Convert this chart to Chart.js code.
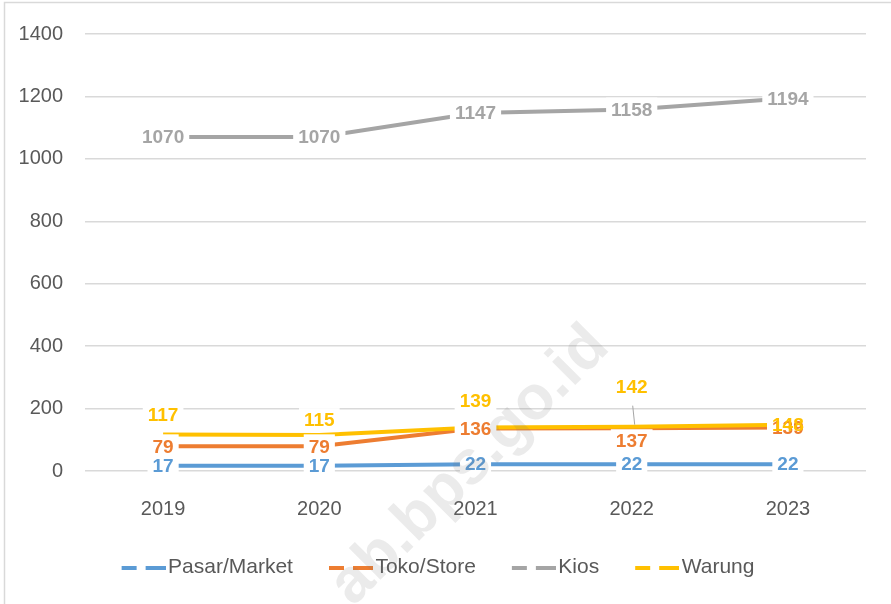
<!DOCTYPE html>
<html>
<head>
<meta charset="utf-8">
<script src="https://cdn.jsdelivr.net/npm/chart.js@4.4.1/dist/chart.umd.min.js"></script>
<style>
  body { margin: 0; background: #fff; }
  #wrap { width: 891px; height: 604px; }
</style>
</head>
<body>
<div id="wrap"><canvas id="myChart" width="891" height="604"></canvas></div>
<script>
// Data
const years = ["2019", "2020", "2021", "2022", "2023"];
const pasar = [17, 17, 22, 22, 22];
const toko = [79, 79, 136, 137, 139];
const kios = [1070, 1070, 1147, 1158, 1194];
const warung = [117, 115, 139, 142, 148];
const yTicks = [0, 200, 400, 600, 800, 1000, 1200, 1400];

const FONT = "'Liberation Sans', Arial, sans-serif";
const colors = {
  pasar: "#5B9BD5",
  toko: "#ED7D31",
  kios: "#A5A5A5",
  warung: "#FFC000",
};

// label nudges (px, relative to the point) so labels sit where the reference has them
const labelShift = {
  3: [-20, -15, -27, -40, 0],
  1: [0, 0, 0, 13, 0],
};

// dashed legend marker "– —"
function dashMarker(color) {
  const c = document.createElement("canvas");
  c.width = 62;
  c.height = 4;
  const g = c.getContext("2d");
  g.fillStyle = color;
  g.fillRect(18, 0, 15, 4);
  g.fillRect(42, 0, 20, 4);
  return c;
}

function series(label, data, color, order) {
  return {
    label: label,
    data: data,
    borderColor: color,
    backgroundColor: color,
    borderWidth: 4,
    pointRadius: 0,
    pointStyle: dashMarker(color),
    tension: 0,
    order: order,
  };
}

const frame = {
  id: "frame",
  beforeDraw(chart) {
    const c = chart.ctx;
    c.save();
    c.fillStyle = "#fff";
    c.fillRect(0, 0, chart.width, chart.height);
    c.strokeStyle = "#d9d9d9";
    c.lineWidth = 1.5;
    c.strokeRect(4.5, 2.5, 1000, 1000);
    c.restore();
  },
};

const valueLabels = {
  id: "valueLabels",
  afterDatasetsDraw(chart) {
    const c = chart.ctx;
    c.save();
    c.font = "bold 19px " + FONT;
    c.textAlign = "center";
    c.textBaseline = "middle";
    const items = [];
    chart.data.datasets.forEach((ds, i) => {
      const meta = chart.getDatasetMeta(i);
      meta.data.forEach((pt, j) => {
        const shift = labelShift[i] ? labelShift[i][j] : 0;
        items.push({ x: pt.x, y: pt.y + shift, py: pt.y, text: String(ds.data[j]), color: ds.borderColor, lead: shift < -30 });
      });
    });
    // white boxes first, then the text, so overlapping labels both stay visible
    c.fillStyle = "#fff";
    items.forEach((it) => {
      const w = c.measureText(it.text).width;
      c.fillRect(it.x - w / 2 - 5, it.y - 12, w + 10, 24);
    });
    items.forEach((it) => {
      if (it.lead) {
        c.strokeStyle = "#a6a6a6";
        c.lineWidth = 1;
        c.beginPath();
        c.moveTo(it.x + 1, it.y + 19);
        c.lineTo(it.x + 3, it.py - 2);
        c.stroke();
      }
      c.fillStyle = it.color;
      c.fillText(it.text, it.x, it.y + 1);
    });
    c.restore();
  },
};

const watermark = {
  id: "watermark",
  afterDraw(chart) {
    const c = chart.ctx;
    c.save();
    c.translate(470, 466);
    c.rotate(-Math.PI / 4);
    c.font = "bold 62px " + FONT;
    c.textAlign = "center";
    c.textBaseline = "middle";
    c.fillStyle = "rgba(120,120,120,0.15)";
    c.fillText("ab.bps.go.id", 0, 0);
    c.restore();
  },
};

const ctx = document.getElementById("myChart");
const myChart = new Chart(ctx, {
  type: "line",
  data: {
    labels: years,
    datasets: [
      series("Pasar/Market", pasar, colors.pasar, 4),
      series("Toko/Store", toko, colors.toko, 3),
      series("Kios", kios, colors.kios, 2),
      series("Warung", warung, colors.warung, 1),
    ],
  },
  options: {
    responsive: false,
    animation: false,
    events: [],
    layout: { padding: { left: 0, right: 25, top: 32, bottom: 16 } },
    scales: {
      x: {
        offset: true,
        grid: { display: false, drawTicks: false },
        border: { display: false },
        ticks: { color: "#595959", font: { family: FONT, size: 20 }, padding: 26 },
        afterFit(scale) {
          scale.height = 60;
        },
      },
      y: {
        min: 0,
        max: 1400,
        afterBuildTicks(scale) {
          scale.ticks = yTicks.map((v) => ({ value: v }));
        },
        grid: { color: "#d9d9d9", lineWidth: 1.5, drawTicks: false },
        border: { display: false },
        ticks: {
          color: "#595959",
          font: { family: FONT, size: 20 },
          padding: 22,
          callback: (v) => String(v),
        },
        afterFit(scale) {
          scale.width = 85;
        },
      },
    },
    plugins: {
      tooltip: { enabled: false },
      legend: {
        position: "bottom",
        labels: {
          usePointStyle: true,
          pointStyleWidth: 46,
          padding: 26,
          color: "#595959",
          font: { family: FONT, size: 21 },
          sort: (a, b) => a.datasetIndex - b.datasetIndex,
        },
      },
    },
  },
  plugins: [frame, valueLabels, watermark],
});
</script>
</body>
</html>
